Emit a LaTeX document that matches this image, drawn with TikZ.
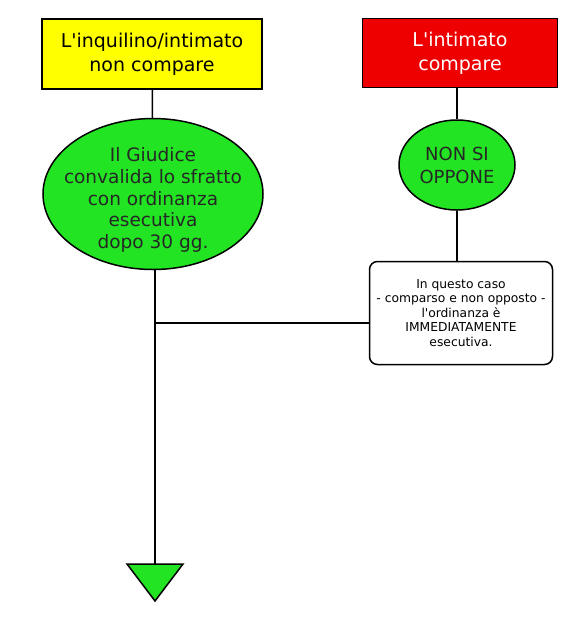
\documentclass[tikz,border=0pt]{standalone}
\usepackage{fontspec}
\setmainfont{DejaVu Sans}
\usetikzlibrary{shapes,positioning}
\definecolor{verde}{RGB}{34,228,34}
\definecolor{giallo}{RGB}{255,255,0}
\definecolor{rosso}{RGB}{238,0,0}
\tikzstyle{caso}=[draw=black,line width=1.5pt,minimum width=220pt,minimum height=70pt,inner sep=0,align=center,font=\fontsize{19}{24}\selectfont]
\tikzstyle{esito}=[ellipse,draw=black,line width=1.5pt,fill=verde,inner sep=0,align=center,text=black!85]
\tikzstyle{link}=[line width=1.5pt]
\begin{document}
\begin{tikzpicture}[x=1pt,y=-1pt]
\useasboundingbox (0,0) rectangle (577,622);
\node[caso,fill=giallo] (noncomp) at (152,54) {L\textquotesingle inquilino/intimato\\non compare};
\node[caso,fill=rosso,text=white,minimum width=195pt,minimum height=69pt] (comp) at (460,53) {L\textquotesingle intimato\\compare};
\node[esito,inner xsep=-14pt,inner ysep=-7pt,minimum width=220pt,minimum height=151pt,font=\fontsize{18.5}{21.8}\selectfont] (giudice) at (153,194)
  {\rule{0pt}{26pt}Il Giudice\\convalida lo sfratto\\con ordinanza\\esecutiva\\dopo 30 gg.};
\node[esito,minimum width=116pt,minimum height=90pt,font=\fontsize{18}{23}\selectfont] (nonsiopp) at (457,165) {NON SI\\OPPONE};
\node[draw=black,line width=1.5pt,rounded corners=8pt,fill=white,minimum width=183pt,minimum height=103pt,
  align=center,font=\fontsize{12.3}{14.5}\selectfont] (nota) at (461,313)
  {In questo caso\\- comparso e non opposto -\\l\textquotesingle ordinanza è\\IMMEDIATAMENTE\\esecutiva.};
\coordinate (fine) at (155,564);
\coordinate (giunto) at (155,323);
\draw[link] (noncomp) -- (giudice);
\draw[link] (comp.south -| nonsiopp) -- (nonsiopp);
\draw[link] (nonsiopp) -- (nonsiopp |- nota.north);
\draw[link] (giudice.south -| fine) -- (fine);
\draw[link] (giunto) -- (giunto -| nota.west);
\draw[line width=1.5pt,fill=verde,line join=miter] (fine) ++(-28,0) -- ++(56,0) -- (155,601) -- cycle;
\end{tikzpicture}
\end{document}
